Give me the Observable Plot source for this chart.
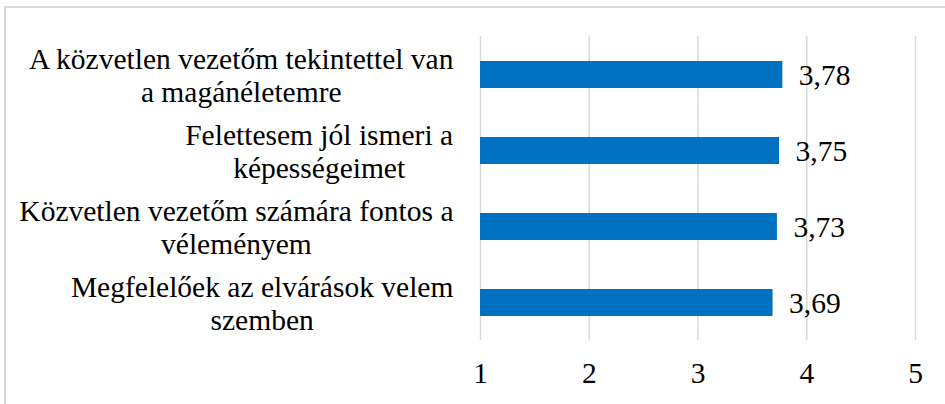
<!DOCTYPE html>
<html>
<head>
<meta charset="utf-8">
<script src="https://cdn.jsdelivr.net/npm/d3@7"></script>
<script src="https://cdn.jsdelivr.net/npm/@observablehq/plot@0.6"></script>
<style>
  html, body { margin: 0; padding: 0; background: #fff; overflow: hidden; }
  #wrap { position: relative; width: 945px; height: 404px; }
  #frame { position: absolute; left: 4px; top: 6px; width: 1000px; height: 500px;
           border: 2px solid #d9d9d9; box-sizing: border-box; }
  #chart { position: absolute; left: 0; top: 0; }
</style>
</head>
<body>
<div id="wrap">
  <div id="frame"></div>
  <div id="chart"></div>
</div>
<script>
const categories = [
  "A közvetlen vezetőm tekintettel van\na magánéletemre",
  "Felettesem jól ismeri a\nképességeimet",
  "Közvetlen vezetőm számára fontos a\nvéleményem",
  "Megfelelőek az elvárások velem\nszemben"
];
const values = [3.78, 3.75, 3.73, 3.69];
const xTicks = [1, 2, 3, 4, 5];

const data = categories.map((c, i) => ({cat: c, value: values[i]}));
const fmt = v => v.toFixed(2).replace(".", ",");
const FF = "Liberation Serif, Times New Roman, serif";
const FS = 29.5;

const chart = Plot.plot({
  width: 945,
  height: 404,
  marginLeft: 480,
  marginRight: 30,
  marginTop: 36,
  marginBottom: 64,
  style: "font-family: 'Liberation Serif', serif; font-size: 29px; color: #000; background: transparent;",
  x: {domain: [1, 5], label: null},
  y: {domain: categories, paddingInner: 0.65, paddingOuter: 0.325, label: null},
  marks: [
    Plot.gridX(xTicks, {stroke: "#d9d9d9", strokeOpacity: 1, strokeWidth: 1.5}),
    Plot.barX(data, {x1: 1, x2: "value", y: "cat", fill: "#0070c0"}),
    Plot.text(data, {x: "value", y: "cat", text: d => fmt(d.value), dx: 16, dy: 1, textAnchor: "start", fontSize: FS, fontFamily: FF, fill: "#000"}),
    Plot.axisX(xTicks, {tickSize: 0, tickPadding: 22, fontSize: FS, fontFamily: FF, tickFormat: d => String(d), label: null}),
    Plot.axisY({tickSize: 0, tickPadding: 27, fontSize: FS, fontFamily: FF, lineHeight: 1.12, textAnchor: "end", label: null})
  ]
});
document.getElementById("chart").appendChild(chart);

// Excel-style: label block right-aligned, lines centred within the block
d3.select(chart).selectAll('g[aria-label="y-axis tick label"] text').each(function() {
  const w = this.getBBox().width;
  this.setAttribute("text-anchor", "middle");
  d3.select(this).selectAll("tspan").attr("x", -w / 2);
});
</script>
</body>
</html>
